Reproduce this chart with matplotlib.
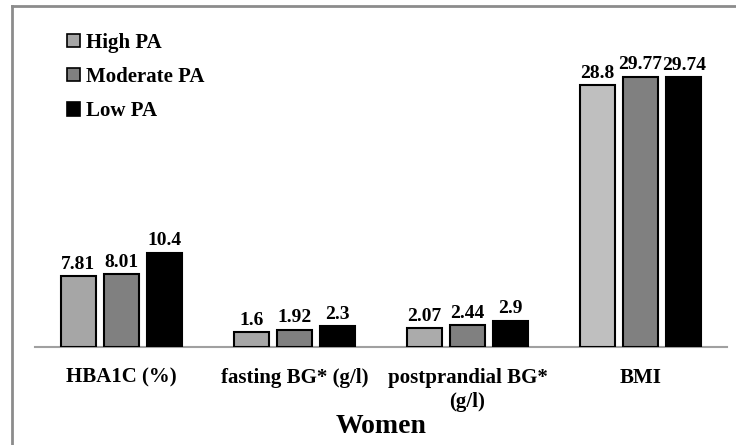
import matplotlib
matplotlib.use("Agg")
import matplotlib.pyplot as plt
from matplotlib.patches import Patch
from matplotlib.lines import Line2D
import numpy as np

categories = ["HBA1C (%)", "fasting BG* (g/l)", "postprandial BG*\n(g/l)", "BMI"]
series_names = ["High PA", "Moderate PA", "Low PA"]
high_pa = [7.81, 1.6, 2.07, 28.8]
moderate_pa = [8.01, 1.92, 2.44, 29.77]
low_pa = [10.4, 2.3, 2.9, 29.74]
value_labels = [["7.81", "1.6", "2.07", "28.8"],
                 ["8.01", "1.92", "2.44", "29.77"],
                 ["10.4", "2.3", "2.9", "29.74"]]

plt.rcParams['font.family'] = ['Liberation Serif', 'DejaVu Serif']
plt.rcParams['font.weight'] = 'bold'

W, H = 736, 445
fig = plt.figure(figsize=(W/100, H/100), dpi=100)
ax = fig.add_axes([35/W, (H-347)/H, (727-35)/W, 318/H])

x = np.arange(len(categories))
width = 0.205
offsets = [-0.25, 0.0, 0.25]
light_colors = ['#A6A6A6', '#A6A6A6', '#ABABAB', '#BFBFBF']
colors = [light_colors, '#808080', '#000000']
legend_colors = ['#A6A6A6', '#808080', '#000000']
data = [high_pa, moderate_pa, low_pa]

for i, vals in enumerate(data):
    bars = ax.bar(x + offsets[i], vals, width, color=colors[i], edgecolor='black', linewidth=1.5, zorder=3)
    for b, lab in zip(bars, value_labels[i]):
        ax.text(b.get_x() + b.get_width()/2, b.get_height() + 0.35, lab,
                ha='center', va='bottom', fontsize=14, fontweight='bold')

ax.set_xlim(-0.5, 3.5)
ax.set_ylim(0, 35)
for s in ['top', 'right', 'left']:
    ax.spines[s].set_visible(False)
ax.spines['bottom'].set_color('#A0A0A0')
ax.spines['bottom'].set_linewidth(1.5)
ax.set_yticks([])
ax.set_xticks(x)
ax.set_xticklabels(categories, fontsize=15, fontweight='bold', linespacing=1.25)
ax.tick_params(axis='x', length=0, pad=15)
ax.set_xlabel("Women", fontsize=20, fontweight='bold', labelpad=2)

handles = [Patch(facecolor=c, edgecolor='black', linewidth=1.2) for c in legend_colors]
fig.legend(handles, series_names, loc='upper left', bbox_to_anchor=(67/W, 1 - 33/H),
           frameon=False, handlelength=0.6, handleheight=0.6,
           handletextpad=0.3, labelspacing=0.68, borderaxespad=0, borderpad=0,
           prop={'weight': 'bold', 'size': 15})

# figure border
fig.add_artist(Line2D([12/W, 12/W], [0, 1 - 6/H], color='#8C8C8C', linewidth=2, transform=fig.transFigure))
fig.add_artist(Line2D([12/W, 1], [1 - 6/H, 1 - 6/H], color='#8C8C8C', linewidth=2, transform=fig.transFigure))

fig.savefig("out.png", dpi=100)
